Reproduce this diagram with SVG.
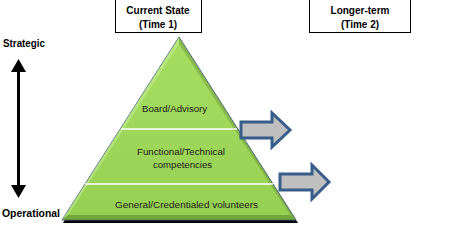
<svg xmlns="http://www.w3.org/2000/svg" width="468" height="240" viewBox="0 0 468 240">
<style>
.hdr{font-family:"Liberation Sans",Arial,sans-serif;font-weight:bold;font-size:10px;fill:#000;text-anchor:middle}
.side{font-family:"Liberation Sans",Arial,sans-serif;font-weight:bold;font-size:10px;fill:#000}
.lvl{font-family:"Liberation Sans",Arial,sans-serif;font-size:8.5px;fill:#1a1a1a}
.box{fill:#fff;stroke:#000;stroke-width:1}
.blk{fill:#BFBFBF;stroke:#385D8A;stroke-width:3;stroke-linejoin:miter}
.div{stroke:#fff;stroke-width:1.5}
</style>
<defs>
<linearGradient id="g" x1="0" y1="0" x2="0" y2="1">
<stop offset="0" stop-color="#A6DE62"/>
<stop offset="1" stop-color="#96D052"/>
</linearGradient>
</defs>
<rect width="468" height="240" fill="#fff"/>
<g id="hdr1"><rect class="box" x="115.5" y="-0.5" width="86" height="33"/><text class="hdr" x="158" y="14">Current State</text><text class="hdr" x="158" y="28">(Time 1)</text></g>
<g id="hdr2"><rect class="box" x="309.5" y="-0.5" width="101" height="33"/><text class="hdr" x="360" y="14">Longer-term</text><text class="hdr" x="360" y="28">(Time 2)</text></g>
<g id="axis">
<text class="side" x="3" y="47" textLength="42" lengthAdjust="spacingAndGlyphs">Strategic</text>
<text class="side" x="2" y="217" textLength="58" lengthAdjust="spacingAndGlyphs">Operational</text>
<line x1="18.5" y1="70" x2="18.5" y2="187" stroke="#000" stroke-width="3"/>
<polygon points="18.5,59 11,72 26,72" fill="#000"/>
<polygon points="18.5,198 11,185 26,185" fill="#000"/>
</g>
<g id="pyramid">
<polygon points="180,39 298,223 63,223" fill="#000"/>
<polygon points="179,37 296,220 62,220" fill="url(#g)" stroke="#3E5F8A" stroke-width="1"/>
<polygon points="179,37 296,220 290,215 179,44" fill="#6E9A3A" opacity="0.5"/>
<polygon points="179,37 62,220 68,215 179,44" fill="#C4EC90" opacity="0.6"/>
<polygon points="62,220 296,220 290,215 68,215" fill="#5E8A2E" opacity="0.6"/>
<line class="div" x1="121" y1="129" x2="237" y2="129"/>
<line class="div" x1="85" y1="184" x2="273" y2="184"/>
</g>
<g id="level1"><text class="lvl" x="142" y="112" textLength="65" lengthAdjust="spacingAndGlyphs">Board/Advisory</text></g>
<g id="level2"><text class="lvl" x="137" y="155" textLength="88" lengthAdjust="spacingAndGlyphs">Functional/Technical</text><text class="lvl" x="153" y="168" textLength="59" lengthAdjust="spacingAndGlyphs">competencies</text></g>
<g id="level3"><text class="lvl" x="115" y="208" textLength="143" lengthAdjust="spacingAndGlyphs">General/Credentialed volunteers</text></g>
<g id="connectors">
<path class="blk" d="M241,122 H272 V113 L290,130 L272,147 V138 H241 Z"/>
<path class="blk" d="M280,174 H312 V165 L329,182 L312,199 V190 H280 Z"/>
</g>
</svg>
